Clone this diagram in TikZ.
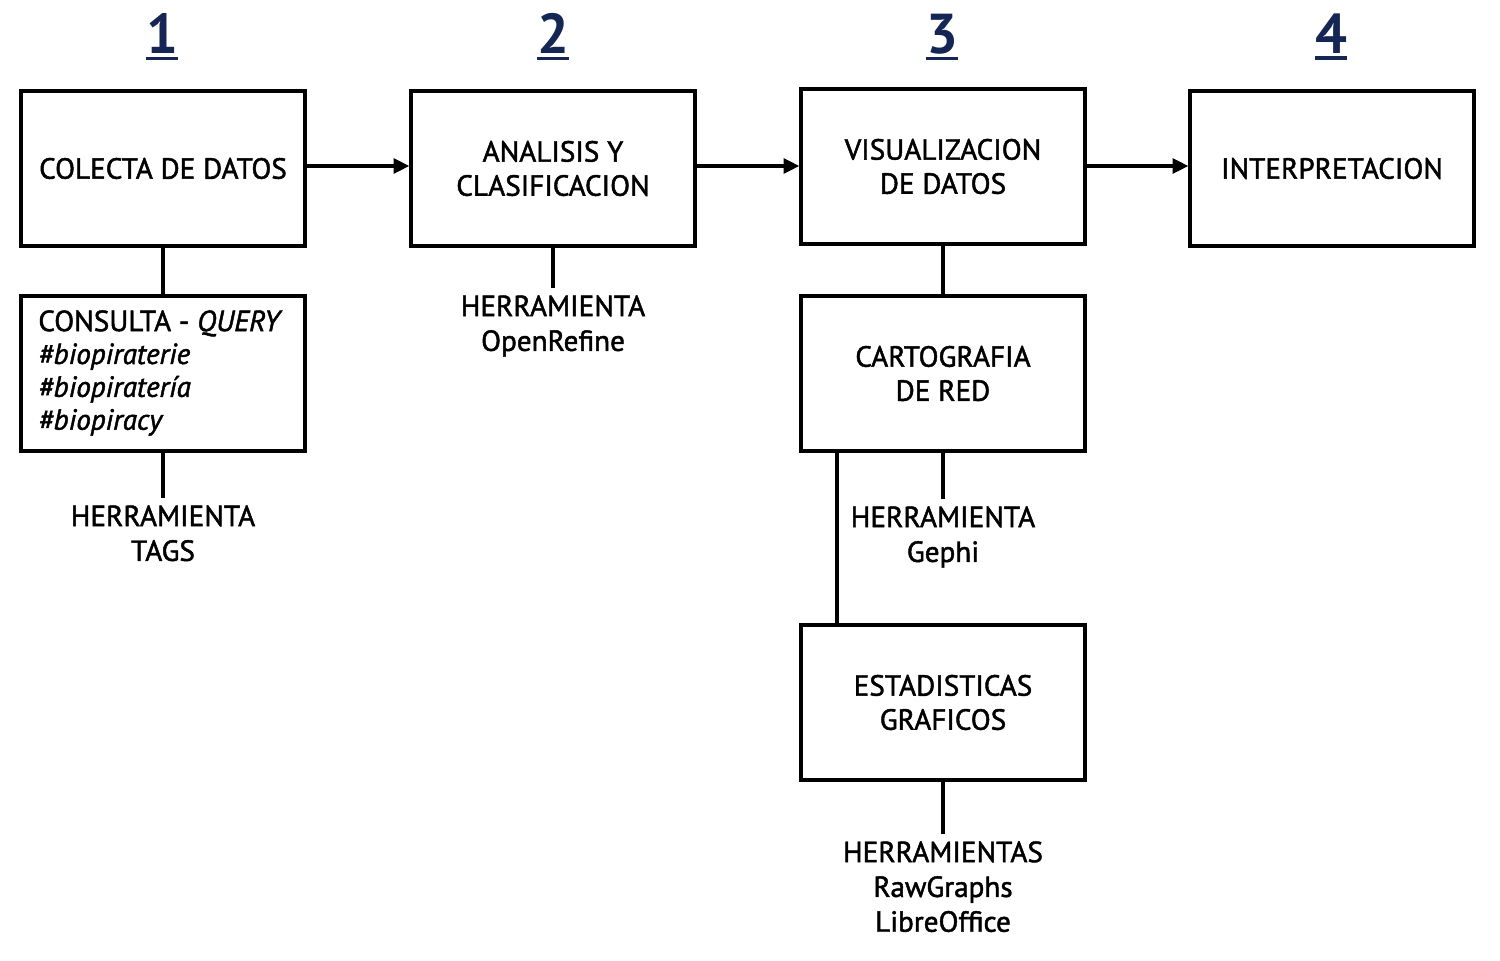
\documentclass[tikz,border=0pt]{standalone}
\usepackage{fontspec}
\setmainfont{PT Sans}[FakeBold=1.6]
\newfontfamily\numfont{PT Sans Bold}
\usetikzlibrary{arrows.meta}
\definecolor{navy}{RGB}{22,38,84}
\newcommand{\numul}[1]{\vtop{\hbox{#1}\kern1.5pt\hrule height 2pt}}
\tikzset{
  every picture/.style={x=0.02cm,y=-0.02cm},
  box/.style={draw,line width=1.9pt,minimum width=5.68cm,minimum height=3.1cm,inner sep=0pt,align=center,font=\fontsize{16.6}{19.4}\selectfont},
  lab/.style={align=center,inner xsep=0pt,inner ysep=4pt,font=\fontsize{16.6}{19.8}\selectfont},
  num/.style={text=navy,font=\fontsize{32}{36}\numfont,inner sep=0pt},
  conn/.style={line width=1.9pt},
  arr/.style={line width=1.9pt,-{Triangle[length=9pt,width=8.5pt]}}
}
\begin{document}
\begin{tikzpicture}
\useasboundingbox (0,0) rectangle (1500,960);
% headers
\node[num] (n1) at (162,37) {\numul{1}};
\node[num] (n2) at (553,37) {\numul{2}};
\node[num] (n3) at (942,37) {\numul{3}};
\node[num] (n4) at (1331,37) {\numul{4}};
% main boxes
\node[box] (b1) at (163,168.5) {COLECTA DE DATOS};
\node[box] (b2) at (553,168.5) {ANALISIS Y\\CLASIFICACION};
\node[box] (b3) at (943,166.5) {VISUALIZACION\\DE DATOS};
\node[box] (b4) at (1332,168.5) {INTERPRETACION};
% sub boxes
\node[box] (q) at (163,373.5) {};
\node[anchor=north west,align=left,inner sep=0pt,font=\fontsize{16.6}{18.7}\selectfont] (qt) at (38,310)
  {CONSULTA - \textit{QUERY}\\\textit{\#biopiraterie}\\\textit{\#biopiratería}\\\textit{\#biopiracy}};
\node[box] (c) at (943,373.5) {CARTOGRAFIA\\DE RED};
\node[box] (e) at (943,702.5) {ESTADISTICAS\\GRAFICOS};
% labels
\node[lab,anchor=north] (t1) at (163,498) {HERRAMIENTA\\TAGS};
\node[lab,anchor=north] (t2) at (553,288) {HERRAMIENTA\\OpenRefine};
\node[lab,anchor=north] (t3) at (943,499) {HERRAMIENTA\\Gephi};
\node[lab,anchor=north] (t4) at (943,834) {HERRAMIENTAS\\RawGraphs\\LibreOffice};
% arrows
\draw[arr] (b1.east |- 0,166) -- (b2.west |- 0,166);
\draw[arr] (b2.east |- 0,166) -- (b3.west |- 0,166);
\draw[arr] (b3.east |- 0,166) -- (b4.west |- 0,166);
% connectors
\draw[conn] (b1.south) -- (q.north);
\draw[conn] (q.south) -- (t1.north);
\draw[conn] (b2.south) -- (t2.north);
\draw[conn] (b3.south) -- (c.north);
\draw[conn] (c.south) -- (t3.north);
\draw[conn] ([xshift=0.75cm]c.south west) -- ([xshift=0.75cm]e.north west);
\draw[conn] (e.south) -- (t4.north);
\end{tikzpicture}
\end{document}
